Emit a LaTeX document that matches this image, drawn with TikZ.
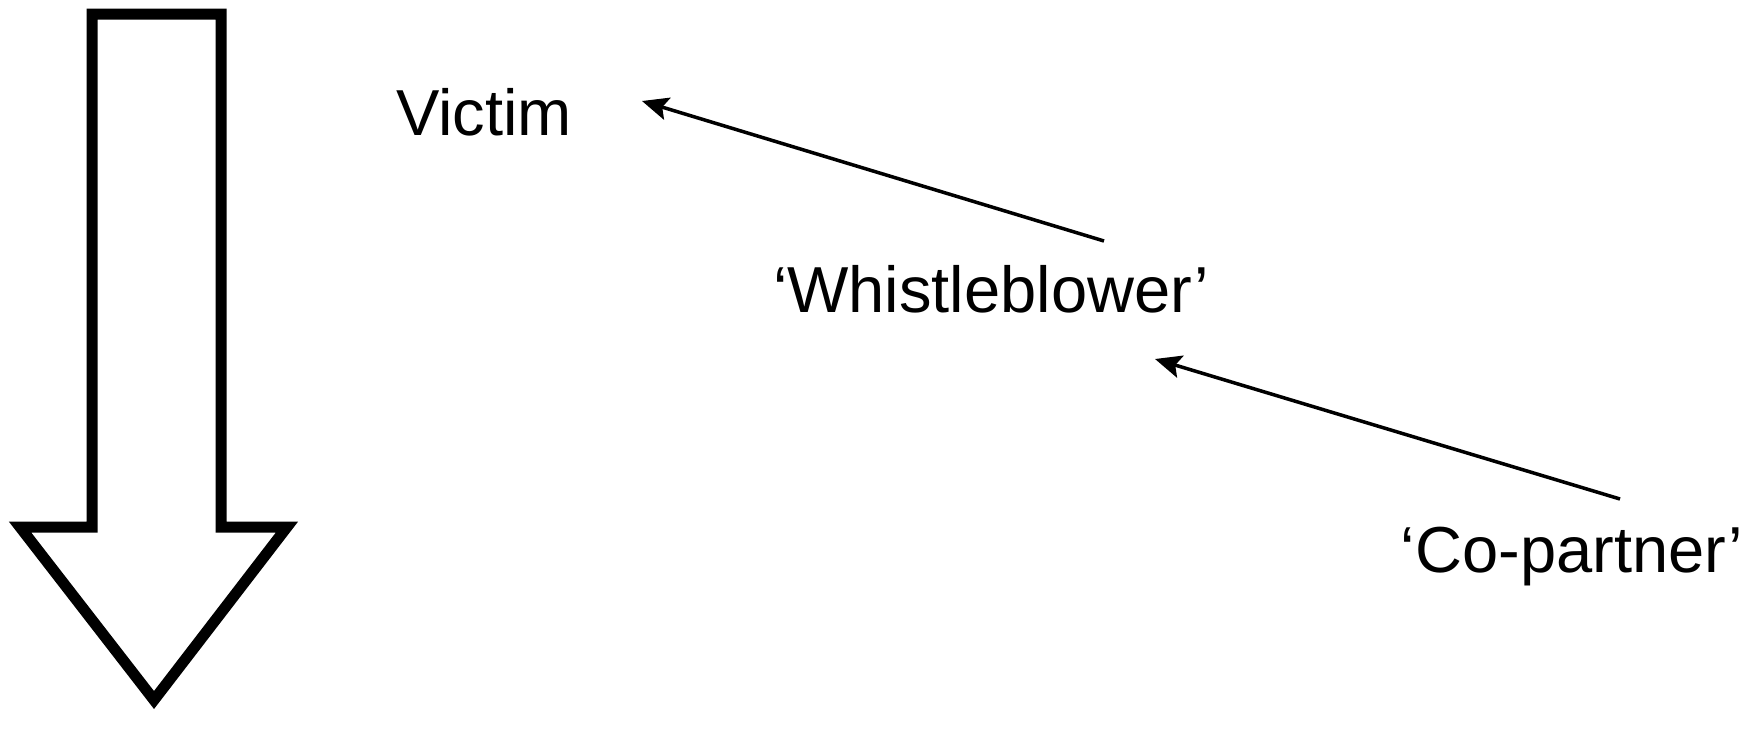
\documentclass[tikz,border=0pt]{standalone}
\usepackage{fontspec}
\setmainfont{Liberation Sans}
\usetikzlibrary{arrows.meta,calc}

\tikzset{
  role/.style={inner sep=0pt,font=\fontsize{18.5pt}{22pt}\selectfont},
  link/.style={line width=1pt,-{Stealth[length=7.5pt,width=6.5pt,inset=1.5pt]}}
}

\begin{document}
\begin{tikzpicture}
\useasboundingbox (0,0) rectangle (17.58,7.35);

\draw[line width=0.11cm,line join=miter,fill=white] (0.92,7.21) -- (2.21,7.21) -- (2.21,2.08) -- (2.87,2.08) -- (1.54,0.35) -- (0.20,2.08) -- (0.92,2.08) -- cycle;

\node[role] (victim) at (4.84,6.23) {Victim};
\node[role] (whistle) at (9.91,4.46) {‘Whistleblower’};
\node[role] (copartner) at (15.72,1.78) {‘Co-partner’};

\draw[link] ($(whistle.center)+(1.13,0.48)$) -- ($(victim.center)+(1.58,0.11)$);
\draw[link] ($(copartner.center)+(0.48,0.58)$) -- ($(whistle.center)+(1.64,-0.70)$);
\end{tikzpicture}
\end{document}
